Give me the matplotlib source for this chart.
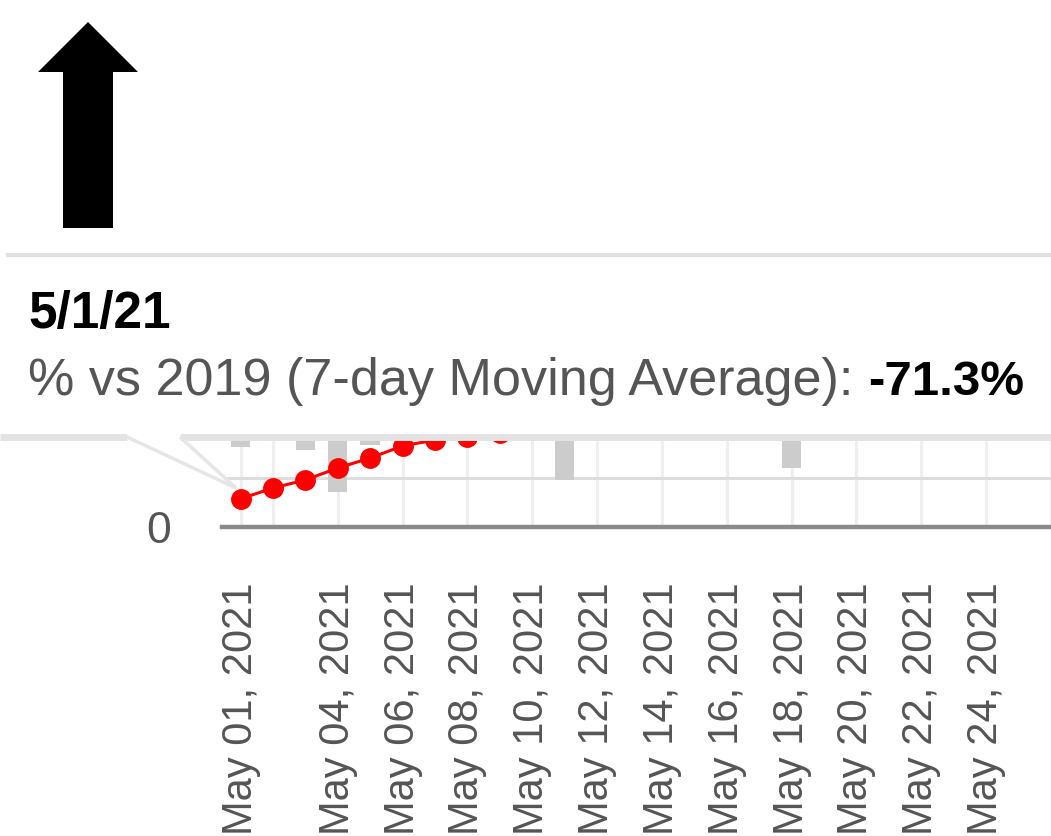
import matplotlib
matplotlib.use("Agg")
import matplotlib.pyplot as plt
import matplotlib.dates as mdates
import pandas as pd
from matplotlib.patches import Polygon
from matplotlib.lines import Line2D

plt.rcParams['font.family'] = ['Liberation Sans', 'DejaVu Sans']

# 7-day moving average, % of 2019 level (only the part not hidden by the tooltip)
point_dates = ["2021-05-01", "2021-05-02", "2021-05-03", "2021-05-04", "2021-05-05",
               "2021-05-06", "2021-05-07", "2021-05-08", "2021-05-09"]
pct_of_2019 = [28.7, 39.8, 48.0, 60.2, 70.4, 82.7, 88.8, 92.0, 96.0]

# daily grey bars, only their lower ends are visible
bar_dates = ["2021-05-01", "2021-05-03", "2021-05-04", "2021-05-05", "2021-05-11", "2021-05-18"]
bar_low = [81.6, 78.6, 35.7, 83.7, 48.0, 60.2]

tick_dates = ["2021-05-01", "2021-05-04", "2021-05-06", "2021-05-08", "2021-05-10", "2021-05-12",
              "2021-05-14", "2021-05-16", "2021-05-18", "2021-05-20", "2021-05-22", "2021-05-24"]
extra_grid_dates = ["2021-05-02", "2021-05-26"]

tooltip_date = "5/1/21"
tooltip_label = "% vs 2019 (7-day Moving Average): "
tooltip_value = "-71.3%"

W, H = 1051, 836


def px(x, y):
    return (x / W, 1 - y / H)


fig = plt.figure(figsize=(W / 100, H / 100), dpi=100)
ax = fig.add_axes([222 / W, 1 - 527 / H, (1051 - 222) / W, (527 - 253) / H])

x_pts = pd.to_datetime(point_dates)
x_bars = pd.to_datetime(bar_dates)
y_top = 279.6

ax.bar(x_bars, [y_top - b for b in bar_low], bottom=bar_low, width=0.6,
       color='#cccccc', zorder=2)
ax.plot(x_pts, pct_of_2019, color='#ff0000', lw=2.2, marker='o', markersize=14,
        zorder=4, clip_on=False)

ax.set_xlim(pd.Timestamp("2021-05-01") - pd.Timedelta(hours=13.7),
            pd.Timestamp("2021-05-25") + pd.Timedelta(hours=7))
ax.set_ylim(0, y_top)

ax.set_xticks(pd.to_datetime(tick_dates))
ax.set_xticks(pd.to_datetime(extra_grid_dates), minor=True)
ax.xaxis.set_major_formatter(mdates.DateFormatter("%b %d, %Y"))
ax.tick_params(axis='x', which='both', length=0, pad=40, labelsize=30,
               labelcolor='#555555', labelrotation=90)
ax.set_yticks([0, 50, 100, 150, 200, 250])
ax.set_yticklabels(["0", "", "", "", "", ""])
ax.tick_params(axis='y', length=0, pad=37, labelsize=32, labelcolor='#555555')

ax.grid(axis='x', which='both', color='#efefef', lw=2.2, zorder=0)
ax.grid(axis='y', color='#dddddd', lw=2.2, zorder=0)
ax.set_axisbelow(True)
for s in ['top', 'right', 'left']:
    ax.spines[s].set_visible(False)
ax.spines['bottom'].set_color('#8a8a8a')
ax.spines['bottom'].set_linewidth(3.2)
ax.spines['bottom'].set_zorder(3)

# tooltip box with pointer
tip = Polygon([px(0, 255), px(1060, 255), px(1060, 435), px(180, 435), px(238, 488),
               px(127, 435), px(0, 435)], closed=True, transform=fig.transFigure,
              facecolor='white', edgecolor='none', zorder=5)
fig.add_artist(tip)
border = dict(transform=fig.transFigure, zorder=6, solid_capstyle='butt')
fig.add_artist(Line2D([px(6, 255)[0], 1], [px(6, 255)[1]] * 2, color='#e0e0e0', lw=3, **border))
fig.add_artist(Line2D([0, px(127, 0)[0]], [px(0, 437)[1]] * 2, color='#e3e3e3', lw=5, **border))
fig.add_artist(Line2D([px(180, 0)[0], 1], [px(0, 437)[1]] * 2, color='#e3e3e3', lw=5, **border))
fig.add_artist(Line2D([px(127, 437)[0], px(236, 488)[0]], [px(127, 437)[1], px(236, 488)[1]],
                      color='#e6e6e6', lw=2.5, **border))
fig.add_artist(Line2D([px(180, 437)[0], px(236, 488)[0]], [px(180, 437)[1], px(236, 488)[1]],
                      color='#e6e6e6', lw=2.5, **border))

fig.text(*px(28, 328), tooltip_date, fontsize=37, fontweight='bold', color='black',
         va='baseline', zorder=7)
t1 = fig.text(*px(28, 395), tooltip_label, fontsize=37.5, color='#555555',
              va='baseline', zorder=7)
bb = t1.get_window_extent(renderer=fig.canvas.get_renderer())
fig.text(bb.x1 / W, px(0, 395)[1], tooltip_value, fontsize=35.5, fontweight='bold',
         color='black', va='baseline', zorder=7)

# black arrow at the top left
arrow = Polygon([px(88, 22), px(138, 72), px(113, 72), px(113, 228), px(63, 228),
                 px(63, 72), px(38, 72)], closed=True, transform=fig.transFigure,
                facecolor='black', edgecolor='none', zorder=5)
fig.add_artist(arrow)

fig.savefig("out.png", dpi=100)
